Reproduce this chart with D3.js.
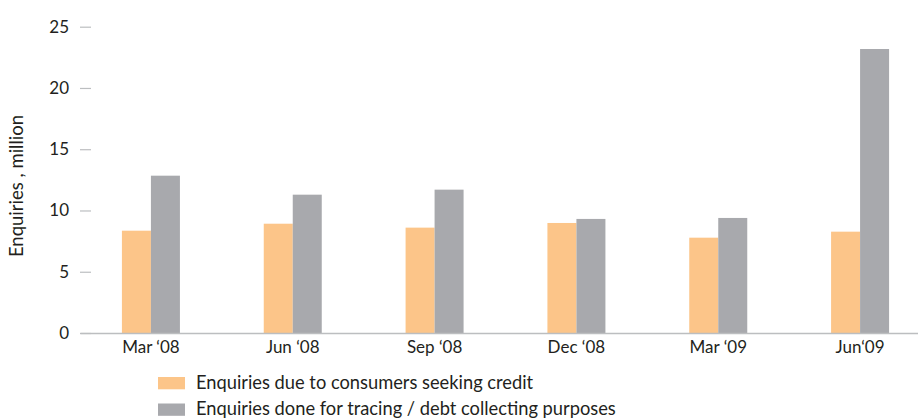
<!DOCTYPE html>
<html>
<head>
<meta charset="utf-8">
<script src="https://cdn.jsdelivr.net/npm/d3@7"></script>
<style>
  body { margin: 0; background: #fff; }
  text { font-family: Lato, "Open Sans", sans-serif; fill: #231f20; }
</style>
</head>
<body>
<div id="chart"></div>
<script>
// data
var quarters = ["Mar \u201808", "Jun \u201808", "Sep \u201808", "Dec \u201808", "Mar \u201809", "Jun\u201809"];
var seriesNames = ["Enquiries due to consumers seeking credit", "Enquiries done for tracing / debt collecting purposes"];
var creditValues = [8.35, 8.92, 8.6, 8.98, 7.78, 8.27];
var tracingValues = [12.84, 11.29, 11.7, 9.31, 9.39, 23.18];
var yTicks = [0, 5, 10, 15, 20, 25];
var colors = ["#fcc589", "#a8a9ad"];

var width = 918, height = 419;

var svg = d3.select('#chart').append('svg')
    .attr('width', width)
    .attr('height', height);

var rows = quarters.map(function(q, i) {
    return { quarter: q, values: [creditValues[i], tracingValues[i]] };
});

// scales
var x0 = d3.scaleBand()
    .domain(quarters)
    .range([80, 931])
    .padding(0);

var x1 = d3.scaleBand()
    .domain([0, 1])
    .range([-29, 29]);

var y = d3.scaleLinear()
    .domain([0, 25])
    .range([333, 26.7]);

// y axis (ticks pointing inwards, no domain line)
var yAxis = svg.append('g')
    .attr('transform', 'translate(80,0)')
    .call(d3.axisLeft(y).tickValues(yTicks).tickSize(-11).tickPadding(11));
yAxis.select('.domain').remove();
yAxis.selectAll('.tick line').attr('stroke', '#bcbec0').attr('stroke-width', 1.2);
yAxis.selectAll('.tick text').style('font-size', '17px').attr('fill', '#231f20');

// bars
var groups = svg.selectAll('.group')
    .data(rows)
    .enter().append('g')
    .attr('class', 'group')
    .attr('transform', function(d) { return 'translate(' + (x0(d.quarter) + x0.bandwidth() / 2) + ',0)'; });

groups.selectAll('rect')
    .data(function(d) { return d.values.map(function(v, k) { return { k: k, v: v }; }); })
    .enter().append('rect')
    .attr('x', function(d) { return x1(d.k); })
    .attr('width', x1.bandwidth())
    .attr('y', function(d) { return y(d.v); })
    .attr('height', function(d) { return y(0) - y(d.v); })
    .attr('fill', function(d) { return colors[d.k]; });

// x axis
var xAxis = svg.append('g')
    .attr('transform', 'translate(0,' + y(0) + ')')
    .call(d3.axisBottom(x0).tickSize(0).tickPadding(8));
xAxis.select('.domain').attr('stroke', '#bcbec0').attr('stroke-width', 1.5);
xAxis.selectAll('.tick text').style('font-size', '17px').attr('fill', '#231f20');

// y axis title
svg.append('text')
    .attr('transform', 'translate(23,186) rotate(-90)')
    .attr('text-anchor', 'middle')
    .style('font-size', '18.5px')
    .text('Enquiries , million');

// legend
var legend = svg.selectAll('.legend')
    .data(seriesNames)
    .enter().append('g')
    .attr('class', 'legend')
    .attr('transform', function(d, i) { return 'translate(158,' + (377 + i * 26.5) + ')'; });

legend.append('rect')
    .attr('width', 27)
    .attr('height', 12.3)
    .attr('fill', function(d, i) { return colors[i]; });

legend.append('text')
    .attr('x', 38)
    .attr('y', 11.5)
    .style('font-size', '18.3px')
    .text(function(d) { return d; });
</script>
</body>
</html>
